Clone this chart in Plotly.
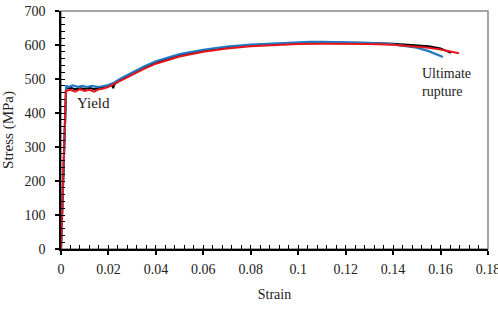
import plotly.graph_objects as go

# Specimen 1 (black)
strain_black = [0, 0.0022, 0.004, 0.006, 0.008, 0.010, 0.012, 0.014, 0.016, 0.018, 0.020, 0.0215, 0.022, 0.0225, 0.024,
                0.03, 0.035, 0.04, 0.05, 0.06, 0.07, 0.08, 0.09, 0.10, 0.11, 0.12, 0.13, 0.14, 0.15, 0.155, 0.16, 0.1644]
stress_black = [0, 472, 474, 470, 473, 471, 474, 470, 474, 476, 480, 482, 473, 484, 493,
                517, 535, 549, 570, 584, 593, 599, 603, 606, 607, 607, 606, 604, 600, 596, 590, 577]

# Specimen 2 (blue)
strain_blue = [0, 0.0022, 0.003, 0.005, 0.007, 0.009, 0.011, 0.013, 0.015, 0.017, 0.020, 0.022, 0.025,
               0.03, 0.035, 0.04, 0.05, 0.06, 0.07, 0.08, 0.09, 0.10, 0.105, 0.11, 0.12, 0.13, 0.14, 0.15, 0.155, 0.161]
stress_blue = [0, 481, 476, 481, 477, 480, 476, 480, 477, 478, 482, 488, 501,
               520, 537, 552, 573, 586, 595, 601, 605, 608, 609, 609, 608, 606, 602, 592, 582, 565]

# Specimen 3 (red)
strain_red = [0, 0.002, 0.004, 0.006, 0.008, 0.010, 0.012, 0.014, 0.016, 0.018, 0.020, 0.022, 0.025,
              0.03, 0.035, 0.04, 0.05, 0.06, 0.07, 0.08, 0.09, 0.10, 0.11, 0.12, 0.13, 0.14, 0.15, 0.155, 0.16, 0.165, 0.1678]
stress_red = [0, 465, 468, 463, 470, 465, 468, 463, 470, 472, 477, 484, 495,
              513, 530, 545, 566, 580, 590, 596, 600, 603, 604, 604, 603, 601, 596, 592, 587, 581, 576]

x_ticks = [0, 0.02, 0.04, 0.06, 0.08, 0.1, 0.12, 0.14, 0.16, 0.18]
x_labels = ["0", "0.02", "0.04", "0.06", "0.08", "0.1", "0.12", "0.14", "0.16", "0.18"]
y_ticks = [0, 100, 200, 300, 400, 500, 600, 700]

FF = "Times New Roman, Liberation Serif, Nimbus Roman, DejaVu Serif, serif"
TXT = "#222222"

fig = go.Figure()
fig.add_trace(go.Scatter(x=strain_black, y=stress_black, mode="lines",
                         line=dict(color="#000000", width=2), showlegend=False))
fig.add_trace(go.Scatter(x=strain_blue, y=stress_blue, mode="lines",
                         line=dict(color="#1f78c1", width=2.2), showlegend=False))
fig.add_trace(go.Scatter(x=strain_red, y=stress_red, mode="lines",
                         line=dict(color="#e8141c", width=2), showlegend=False))

# invisible trace to activate secondary axes (inside tick marks)
fig.add_trace(go.Scatter(x=[0], y=[0], xaxis="x2", yaxis="y2", mode="markers",
                         marker=dict(opacity=0), showlegend=False, hoverinfo="skip"))

fig.update_layout(
    width=498, height=309,
    margin=dict(l=61, r=10, t=11, b=60, autoexpand=False),
    paper_bgcolor="white", plot_bgcolor="white",
    font=dict(family=FF, size=14, color=TXT),
    xaxis=dict(range=[0, 0.18], tickvals=x_ticks, ticktext=x_labels, automargin=False,
               showgrid=False, zeroline=False, showline=True, linecolor="black", linewidth=1.5,
               ticks="outside", ticklen=4, tickcolor="black", tickwidth=1.5,
               ticklabeloverflow="allow", ticklabelstandoff=2,
               title=dict(text="Strain", font=dict(size=14, family=FF, color=TXT), standoff=14),
               tickfont=dict(size=14, family=FF, color=TXT)),
    yaxis=dict(range=[0, 700], tickvals=y_ticks, automargin=False,
               showgrid=False, zeroline=False, showline=True, linecolor="black", linewidth=1.5,
               ticks="outside", ticklen=4, tickcolor="black", tickwidth=1.5,
               ticklabelstandoff=7,
               title=dict(text="Stress (MPa)", font=dict(size=15, family=FF, color=TXT), standoff=8),
               tickfont=dict(size=14, family=FF, color=TXT)),
    xaxis2=dict(range=[0, 0.18], overlaying="x", side="bottom", tick0=0, dtick=0.004, automargin=False,
                ticks="inside", ticklen=4, tickcolor="black", tickwidth=1,
                showticklabels=False, showgrid=False, zeroline=False, showline=False),
    yaxis2=dict(range=[0, 700], overlaying="y", side="left", tick0=0, dtick=20, automargin=False,
                ticks="inside", ticklen=4, tickcolor="black", tickwidth=1,
                showticklabels=False, showgrid=False, zeroline=False, showline=False),
    shapes=[dict(type="rect", xref="paper", yref="paper", x0=0, y0=0, x1=1, y1=1,
                 line=dict(color="#888888", width=1.5), layer="below")],
    annotations=[
        dict(x=0.0135, y=428, xref="x", yref="y", text="Yield", showarrow=False,
             font=dict(size=15, family=FF, color=TXT)),
        dict(x=0.1515, y=489, xref="x", yref="y", text="Ultimate<br>rupture", showarrow=False,
             xanchor="left", align="left", font=dict(size=14, family=FF, color=TXT)),
    ],
)

fig.write_html("out.html")
